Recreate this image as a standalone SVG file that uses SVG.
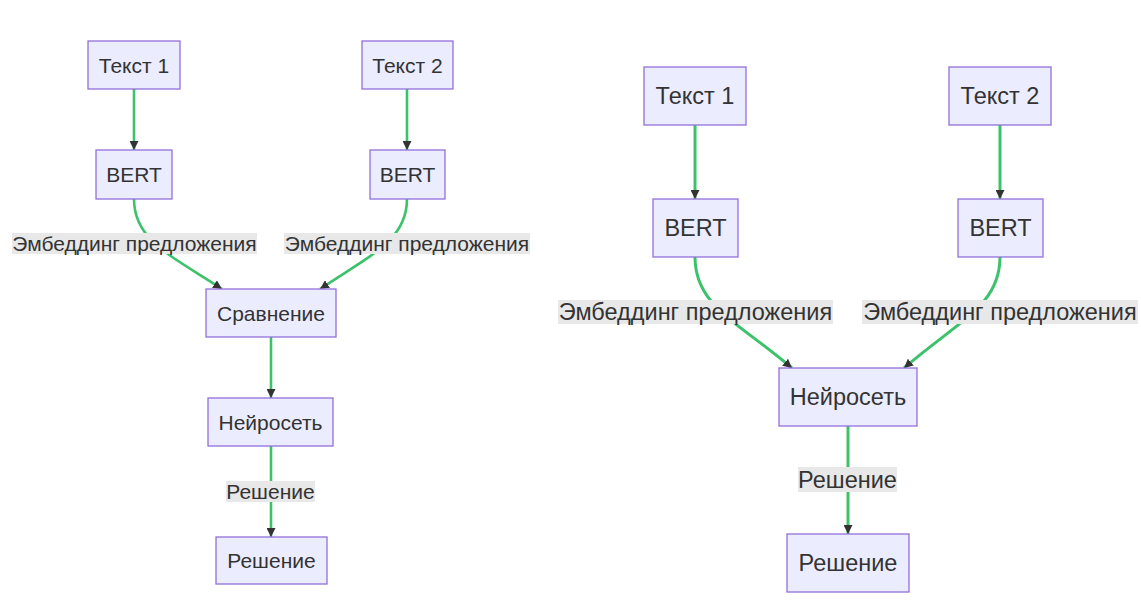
<svg xmlns="http://www.w3.org/2000/svg" width="1141" height="600" viewBox="0 0 1141 600">
<defs>
<style>
.node rect{fill:#ECECFF;stroke:#9370DB;stroke-width:1.3}
text{font-family:"Liberation Sans",Arial,sans-serif;fill:#333;text-anchor:middle;dominant-baseline:central}
.l text{font-size:21px}
.r text{font-size:23.5px}
.edge{fill:none;stroke:#3bc26a;stroke-width:2.6}
.r .edge{stroke-width:3}
.lbl rect{fill:#e8e8e8}
</style>
<marker id="ah" viewBox="0 0 10 10" refX="10" refY="5" markerWidth="9" markerHeight="9" markerUnits="userSpaceOnUse" orient="auto">
<path d="M0,0 L10,5 L0,10 z" fill="#333"/>
</marker>
</defs>
<rect width="1141" height="600" fill="#fff"/>

<g class="l">
<g id="connectors-left">
<path class="edge" d="M134,89 L134,150" marker-end="url(#ah)"/>
<path class="edge" d="M407,89 L407,150" marker-end="url(#ah)"/>
<path class="edge" d="M134,199 C134,240 170,255 222,289" marker-end="url(#ah)"/>
<path class="edge" d="M407,199 C407,240 371,255 320,289" marker-end="url(#ah)"/>
<path class="edge" d="M271,337 L271,398" marker-end="url(#ah)"/>
<path class="edge" d="M271,446 L271,537" marker-end="url(#ah)"/>
<g class="lbl"><rect x="12" y="233" width="245" height="21"/><text x="134.5" y="243.5">Эмбеддинг предложения</text></g>
<g class="lbl"><rect x="284" y="233" width="246" height="21"/><text x="407" y="243.5">Эмбеддинг предложения</text></g>
<g class="lbl"><rect x="226" y="481" width="89" height="21"/><text x="270.5" y="491.5">Решение</text></g>
</g>
<g id="L-text1" class="node"><rect x="88" y="41" width="92" height="48"/><text x="134" y="65">Текст 1</text></g>
<g id="L-text2" class="node"><rect x="362" y="41" width="91" height="48"/><text x="407.5" y="65">Текст 2</text></g>
<g id="L-bert1" class="node"><rect x="96" y="150" width="76" height="49"/><text x="134" y="174.5">BERT</text></g>
<g id="L-bert2" class="node"><rect x="370" y="150" width="75" height="49"/><text x="407.5" y="174.5">BERT</text></g>
<g id="L-compare" class="node"><rect x="206" y="289" width="130" height="48"/><text x="271" y="313">Сравнение</text></g>
<g id="L-nn" class="node"><rect x="208" y="398" width="125" height="48"/><text x="270.5" y="422">Нейросеть</text></g>
<g id="L-result" class="node"><rect x="216" y="537" width="111" height="47"/><text x="271.5" y="560.5">Решение</text></g>
</g>

<g class="r">
<g id="connectors-right">
<path class="edge" d="M695,125 L695,199" marker-end="url(#ah)"/>
<path class="edge" d="M1000,125 L1000,199" marker-end="url(#ah)"/>
<path class="edge" d="M695,257 C695,305 735,320 792,368" marker-end="url(#ah)"/>
<path class="edge" d="M1000,257 C1000,305 960,320 904,368" marker-end="url(#ah)"/>
<path class="edge" d="M848,426 L848,534" marker-end="url(#ah)"/>
<g class="lbl"><rect x="558" y="300" width="275" height="24"/><text x="695.5" y="312">Эмбеддинг предложения</text></g>
<g class="lbl"><rect x="862" y="300" width="276" height="24"/><text x="1000" y="312">Эмбеддинг предложения</text></g>
<g class="lbl"><rect x="798" y="467" width="99" height="25"/><text x="847.5" y="479.5">Решение</text></g>
</g>
<g id="R-text1" class="node"><rect x="644" y="67" width="102" height="58"/><text x="695" y="96">Текст 1</text></g>
<g id="R-text2" class="node"><rect x="949" y="67" width="102" height="58"/><text x="1000" y="96">Текст 2</text></g>
<g id="R-bert1" class="node"><rect x="653" y="199" width="85" height="58"/><text x="695.5" y="228">BERT</text></g>
<g id="R-bert2" class="node"><rect x="958" y="199" width="85" height="58"/><text x="1000.5" y="228">BERT</text></g>
<g id="R-nn" class="node"><rect x="779" y="368" width="138" height="58"/><text x="848" y="397">Нейросеть</text></g>
<g id="R-result" class="node"><rect x="787" y="534" width="122" height="58"/><text x="848" y="563">Решение</text></g>
</g>
</svg>
